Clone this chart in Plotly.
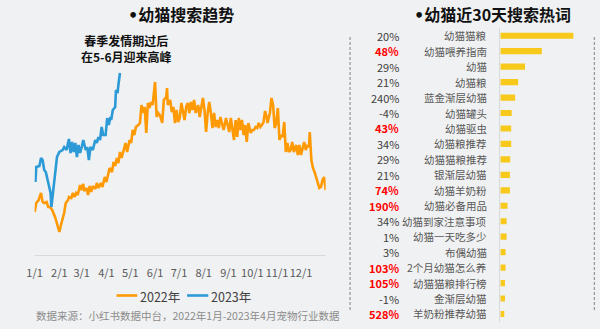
import plotly.graph_objects as go

# ---------------- data ----------------
month_days = [0, 31, 59, 90, 120, 151, 181, 212, 243, 273, 304, 334]
month_labels = ["1/1", "2/1", "3/1", "4/1", "5/1", "6/1", "7/1", "8/1", "9/1", "10/1", "11/1", "12/1"]

days_2022 = [0, 2, 5, 8, 10, 12, 15, 17, 19, 22, 26, 31, 33, 37, 39, 42, 43, 46, 48, 50,
             52, 54, 57, 58, 61, 62, 65, 67, 69, 71, 73, 76, 78, 80, 83, 85, 88, 90, 92, 94,
             97, 99, 101, 103, 105, 107, 109, 112, 114, 116, 119, 121, 123, 125, 127, 130, 132, 134, 136, 138,
             140, 142, 144, 146, 148, 151, 153, 155, 157, 160, 162, 165, 166, 167, 170, 172, 174, 176, 178, 180,
             182, 184, 186, 188, 190, 192, 194, 196, 198, 200, 202, 205, 207, 209, 211, 213, 215, 217, 219, 221,
             223, 225, 227, 229, 231, 233, 235, 237, 240, 242, 244, 246, 248, 250, 252, 254, 256, 258, 260, 262,
             264, 266, 268, 271, 273, 275, 277, 279, 281, 283, 285, 287, 289, 291, 292, 295, 297, 299, 301, 303,
             305, 307, 309, 311, 313, 315, 317, 319, 321, 323, 325, 328, 330, 332, 334, 336, 338, 340, 342, 344,
             345, 347, 349, 351, 353, 355, 357, 359, 361, 363, 365]
vals_2022 = [43, 52, 55, 62, 53, 52, 53, 48, 48, 45, 37, 23, 30, 42, 52, 55, 58, 57, 62, 58,
             62, 60, 70, 65, 71, 64, 67, 60, 69, 63, 69, 66, 72, 67, 72, 68, 78, 73, 80, 87,
             83, 93, 89, 97, 92, 103, 97, 105, 112, 103, 115, 112, 125, 120, 128, 130, 132, 150, 142, 148,
             122, 152, 147, 153, 150, 173, 138, 142, 140, 132, 155, 158, 167, 150, 155, 143, 148, 132, 145, 133,
             137, 152, 145, 135, 148, 152, 142, 153, 145, 155, 142, 150, 138, 147, 157, 145, 123, 142, 153, 142,
             127, 142, 128, 135, 127, 138, 132, 125, 137, 130, 123, 137, 125, 115, 135, 118, 137, 125, 135, 120,
             130, 113, 132, 122, 125, 125, 128, 127, 132, 128, 130, 133, 144, 138, 132, 142, 157, 150, 127, 132,
             147, 115, 120, 118, 133, 103, 112, 103, 105, 113, 103, 110, 100, 110, 100, 107, 113, 105, 110, 108,
             123, 95, 87, 83, 78, 72, 67, 68, 75, 78, 65]

days_2023 = [1, 2, 6, 8, 10, 12, 14, 17, 20, 21, 24, 28, 31, 35, 37, 40, 43, 45, 47, 49,
             51, 53, 55, 57, 59, 61, 64, 66, 68, 70, 73, 76, 78, 80, 82, 84, 86, 89, 91, 93,
             95, 96, 98, 101, 102, 104, 105, 107]
vals_2023 = [73, 88, 89, 97, 95, 85, 83, 72, 62, 48, 72, 98, 103, 105, 108, 105, 116, 102, 113, 103,
             112, 98, 110, 102, 108, 115, 105, 108, 95, 108, 105, 115, 112, 118, 115, 128, 120, 120, 137, 130,
             138, 135, 145, 148, 165, 162, 170, 182]

keywords = ["幼猫猫粮", "幼猫喂养指南", "幼猫", "幼猫粮", "蓝金渐层幼猫", "幼猫罐头", "幼猫驱虫",
            "幼猫粮推荐", "幼猫猫粮推荐", "银渐层幼猫", "幼猫羊奶粉", "幼猫必备用品", "幼猫到家注意事项",
            "幼猫一天吃多少", "布偶幼猫", "2个月幼猫怎么养", "幼猫猫粮排行榜", "金渐层幼猫", "羊奶粉推荐幼猫"]
heat = [74, 42, 25, 18, 15, 11.5, 11, 11, 10, 9.7, 9.7, 7.3, 6.3, 6.3, 5.3, 5.3, 4.7, 4.7, 4]
growth = ["20%", "48%", "29%", "21%", "240%", "-4%", "43%", "34%", "29%", "21%", "74%", "190%", "34%",
          "1%", "3%", "103%", "105%", "-1%", "528%"]
growth_highlight = [False, True, False, False, False, False, True, False, False, False, True, True, False,
                    False, False, True, True, False, True]

# ---------------- style ----------------
FONT = "Microsoft YaHei, Noto Sans CJK SC, sans-serif"
BULLET = '<span style="font-family:DejaVu Sans">•</span>'
ORANGE = "#FF9A05"
BLUE = "#2B9AD6"
BAR = "#F7C91A"
W, H = 600, 329

def px_x(x):
    return x / W

def px_y(y):
    return (H - y) / H

fig = go.Figure()

fig.add_trace(go.Scatter(x=days_2022, y=vals_2022, mode="lines", name="2022年",
                         line=dict(color=ORANGE, width=2.6), xaxis="x", yaxis="y"))
fig.add_trace(go.Scatter(x=days_2023, y=vals_2023, mode="lines", name="2023年",
                         line=dict(color=BLUE, width=2.6), xaxis="x", yaxis="y"))

fig.add_trace(go.Bar(x=heat, y=list(range(len(keywords))), orientation="h", width=0.4,
                     marker=dict(color=BAR, line=dict(width=0)), xaxis="x2", yaxis="y2"))

annotations = []
# titles
annotations.append(dict(text=f"<b>{BULLET}幼猫搜索趋势</b>", x=px_x(175), y=px_y(14), xref="paper", yref="paper",
                        showarrow=False, xanchor="center", yanchor="middle",
                        font=dict(family=FONT, size=16, color="#111111")))
annotations.append(dict(text=f"<b>{BULLET}幼猫近30天搜索热词</b>", x=px_x(491), y=px_y(14), xref="paper", yref="paper",
                        showarrow=False, xanchor="center", yanchor="middle",
                        font=dict(family=FONT, size=16, color="#111111")))
# callout
annotations.append(dict(text="<b>春季发情期过后<br>在5-6月迎来高峰</b>", x=px_x(120), y=px_y(48),
                        xref="paper", yref="paper", showarrow=False, xanchor="center", yanchor="middle",
                        font=dict(family=FONT, size=12, color="#111111")))
# keyword labels and growth
for i, (kw, g, hl) in enumerate(zip(keywords, growth, growth_highlight)):
    annotations.append(dict(text=kw, x=px_x(488), y=i, xref="paper", yref="y2", showarrow=False,
                            xanchor="right", yanchor="middle",
                            font=dict(family=FONT, size=10.5, color="#595959")))
    annotations.append(dict(text=f"<b>{g}</b>" if hl else g, x=px_x(398), y=i, xref="paper", yref="y2",
                            showarrow=False, xanchor="right", yanchor="middle",
                            font=dict(family=FONT, size=11, color="#FF0000" if hl else "#404040")))
# legend text
annotations.append(dict(text="2022年", x=px_x(132), y=px_y(296), xref="paper", yref="paper", showarrow=False,
                        xanchor="left", yanchor="middle", font=dict(family=FONT, size=12.5, color="#404040")))
annotations.append(dict(text="2023年", x=px_x(203.5), y=px_y(296), xref="paper", yref="paper", showarrow=False,
                        xanchor="left", yanchor="middle", font=dict(family=FONT, size=12.5, color="#404040")))
# source
annotations.append(dict(text="数据来源：小红书数据中台，2022年1月-2023年4月宠物行业数据", x=px_x(26), y=px_y(315),
                        xref="paper", yref="paper", showarrow=False, xanchor="left", yanchor="middle",
                        font=dict(family=FONT, size=10.5, color="#8C8C8C")))

shapes = [
    dict(type="line", xref="paper", yref="paper", x0=px_x(110), x1=px_x(131), y0=px_y(295.5), y1=px_y(295.5),
         line=dict(color=ORANGE, width=2.6)),
    dict(type="line", xref="paper", yref="paper", x0=px_x(181.5), x1=px_x(203), y0=px_y(295.5), y1=px_y(295.5),
         line=dict(color=BLUE, width=2.6)),
    dict(type="line", xref="paper", yref="paper", x0=px_x(346.7), x1=px_x(346.7), y0=px_y(37), y1=px_y(312),
         line=dict(color="#9A9A9A", width=1.3, dash="3px,2px")),
    dict(type="line", xref="paper", yref="paper", x0=px_x(594.3), x1=px_x(594.3), y0=px_y(37), y1=px_y(312),
         line=dict(color="#9A9A9A", width=1.3, dash="3px,2px")),
]

fig.update_layout(
    width=W, height=H,
    margin=dict(l=0, r=0, t=0, b=0),
    paper_bgcolor="#F0F1F2", plot_bgcolor="rgba(0,0,0,0)",
    showlegend=False,
    font=dict(family=FONT),
    xaxis=dict(domain=[px_x(27), px_x(322)], range=[0, 365], tickmode="array",
               tickvals=month_days, ticktext=month_labels, tickangle=0, showgrid=False, zeroline=False,
               showline=True, linecolor="#D9D9D9", linewidth=1,
               ticks="outside", ticklen=8, tickcolor="rgba(0,0,0,0)",
               tickfont=dict(family=FONT, size=11, color="#595959"), anchor="y"),
    yaxis=dict(domain=[px_y(255), px_y(72)], range=[0, 183], showgrid=False, zeroline=False,
               showticklabels=False, showline=False, anchor="x"),
    xaxis2=dict(domain=[px_x(499), px_x(579)], range=[0, 80], showgrid=False, zeroline=False,
                showticklabels=False, showline=False, anchor="y2"),
    yaxis2=dict(domain=[px_y(321.7), px_y(28)], range=[18.5, -0.5], showgrid=False, zeroline=False,
                showticklabels=False, showline=True, linecolor="#D9D9D9", linewidth=1, anchor="x2"),
    annotations=annotations,
    shapes=shapes,
)

fig.write_html("out.html")
